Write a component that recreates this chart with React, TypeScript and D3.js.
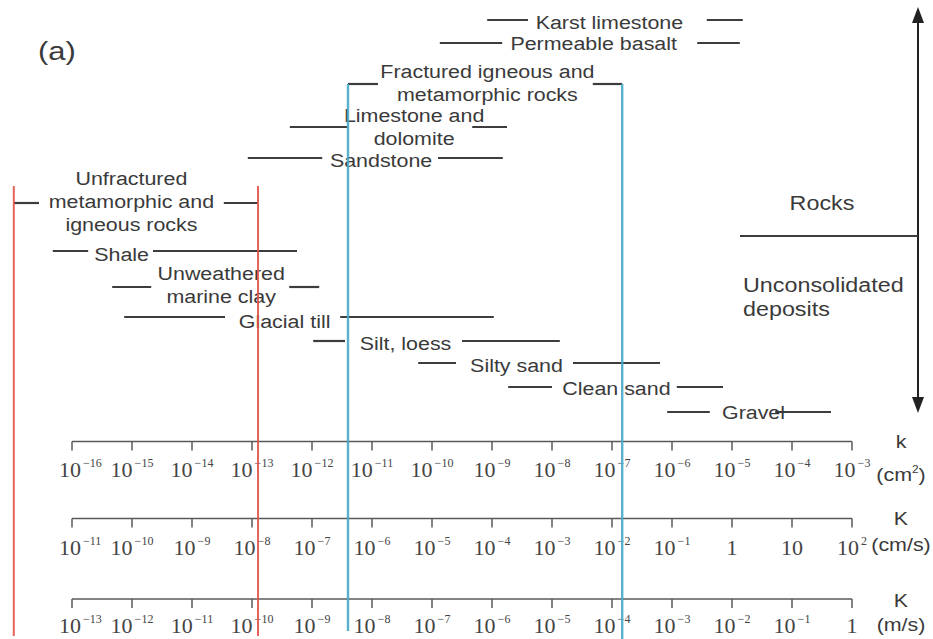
import React, { useEffect, useRef } from "react";
import * as d3 from "d3";

// Typical ranges of intrinsic permeability k (log10 cm²) for rocks and
// unconsolidated deposits. Each range is broken by a gap holding its name:
// [rangeLo, gapLo] and [gapHi, rangeHi] are the two drawn pieces.
const rockNames = [
  "Karst limestone",
  "Permeable basalt",
  "Fractured igneous and\nmetamorphic rocks",
  "Limestone and\ndolomite",
  "Sandstone",
  "Unfractured\nmetamorphic and\nigneous rocks",
  "Shale",
  "Unweathered\nmarine clay",
  "Glacial till",
  "Silt, loess",
  "Silty sand",
  "Clean sand",
  "Gravel",
];
const rangeLo = [-9.08, -9.87, -11.4, -12.37, -13.07, -16.97, -16.32, -15.33, -15.13, -11.98, -10.23, -8.73, -6.08];
const gapLo = [-8.4, -8.83, -10.9, -11.4, -11.83, -16.55, -15.73, -14.68, -13.45, -11.45, -9.6, -8.0, -5.37];
const gapHi = [-5.42, -5.58, -7.32, -9.33, -9.9, -13.47, -14.65, -12.38, -11.53, -9.5, -7.65, -5.92, -4.28];
const rangeHi = [-4.82, -4.87, -6.83, -8.75, -8.82, -12.9, -12.25, -11.88, -8.97, -7.87, -6.2, -5.15, -3.35];

// Tick exponents of the three scales (k in cm², K in cm/s, K in m/s)
const kExponents = [-16, -15, -14, -13, -12, -11, -10, -9, -8, -7, -6, -5, -4, -3];
const kCmsExponents = [-11, -10, -9, -8, -7, -6, -5, -4, -3, -2, -1, 0, 1, 2];
const kMsExponents = [-13, -12, -11, -10, -9, -8, -7, -6, -5, -4, -3, -2, -1, 0];

// Layout of the rows (pixels)
const rowY = [20, 43, 84, 127, 158, 203, 251, 287, 317, 341, 363, 387, 412];
const labelBaseline = [29, 50, 78, 122, 167, 185, 261, 280, 328, 350, 372, 395, 419];
const labelNudge = [-8, -6, 2, 4, 1, 0, 1, 1, 2, 2, 2, 2, 11];
const LINE_GAP = 23;

const SANS = "'Liberation Sans', Arial, Helvetica, sans-serif";
const SERIF = "'Liberation Serif', 'Times New Roman', Times, serif";
const SX = 1.19; // horizontal stretch of the sans lettering
const INK = "#3a3a3a";
const BAR = "#3d3d3d";
const AXIS = "#5a5a5a";
const RED = "#e5514a";
const BLUE = "#46a8c8";

export default function App() {
  const ref = useRef<SVGSVGElement>(null);

  useEffect(() => {
    const svg = d3.select(ref.current);
    svg.selectAll("*").remove();

    const x = d3.scaleLinear().domain([-16, -3]).range([72, 852]);
    const xCms = d3.scaleLinear().domain([-11, 2]).range([72, 852]);
    const xMs = d3.scaleLinear().domain([-13, 0]).range([72, 852]);

    const sansText = (
      g: d3.Selection<any, any, any, any>,
      str: string,
      cx: number,
      y: number,
      size: number,
      anchor = "middle"
    ) =>
      g
        .append("text")
        .attr("transform", `translate(${cx},${y}) scale(${SX},1)`)
        .attr("text-anchor", anchor)
        .attr("font-family", SANS)
        .attr("font-size", size)
        .attr("fill", INK)
        .text(str);

    // Panel tag
    sansText(svg, "(a)", 38, 60, 26, "start");

    // Range bars with their names
    const bars = svg.append("g");
    rockNames.forEach((name, i) => {
      const y = rowY[i];
      [
        [rangeLo[i], gapLo[i]],
        [gapHi[i], rangeHi[i]],
      ].forEach(([a, b]) => {
        bars
          .append("line")
          .attr("x1", x(a))
          .attr("x2", x(b))
          .attr("y1", y)
          .attr("y2", y)
          .attr("stroke", BAR)
          .attr("stroke-width", 2.2);
      });
      const cx = (x(gapLo[i]) + x(gapHi[i])) / 2 + labelNudge[i];
      name.split("\n").forEach((ln, j) => {
        sansText(bars, ln, cx, labelBaseline[i] + j * LINE_GAP, 18);
      });
    });

    // Rocks / unconsolidated deposits divider with double arrow
    const side = svg.append("g");
    const arrowX = 918;
    side
      .append("line")
      .attr("x1", arrowX)
      .attr("x2", arrowX)
      .attr("y1", 18)
      .attr("y2", 402)
      .attr("stroke", "#222")
      .attr("stroke-width", 2);
    side
      .append("path")
      .attr("d", `M${arrowX},7 L${arrowX - 6},23 L${arrowX + 6},23 Z`)
      .attr("fill", "#222");
    side
      .append("path")
      .attr("d", `M${arrowX},413 L${arrowX - 6},397 L${arrowX + 6},397 Z`)
      .attr("fill", "#222");
    side
      .append("line")
      .attr("x1", 740)
      .attr("x2", arrowX)
      .attr("y1", 236)
      .attr("y2", 236)
      .attr("stroke", BAR)
      .attr("stroke-width", 2.2);
    sansText(side, "Rocks", 822, 210, 19.6);
    sansText(side, "Unconsolidated", 743, 292, 19.6, "start");
    sansText(side, "deposits", 743, 316, 19.6, "start");

    // The three parallel scales
    const axes = [
      { scale: x, exps: kExponents, y: 441.5, labelY: 477, name: "k", nameY: 448, unit: ["(cm", "2", ")"], unitY: 481 },
      { scale: xCms, exps: kCmsExponents, y: 518.5, labelY: 555, name: "K", nameY: 525, unit: ["(cm/s)"], unitY: 551 },
      { scale: xMs, exps: kMsExponents, y: 599, labelY: 633, name: "K", nameY: 607, unit: ["(m/s)"], unitY: 631 },
    ];
    axes.forEach((ax) => {
      const g = svg.append("g");
      const [r0, r1] = ax.scale.range();
      g.append("line")
        .attr("x1", r0)
        .attr("x2", r1)
        .attr("y1", ax.y)
        .attr("y2", ax.y)
        .attr("stroke", AXIS)
        .attr("stroke-width", 1.6);
      ax.exps.forEach((e) => {
        const tx = ax.scale(e);
        g.append("line")
          .attr("x1", tx)
          .attr("x2", tx)
          .attr("y1", ax.y)
          .attr("y2", ax.y + 9)
          .attr("stroke", AXIS)
          .attr("stroke-width", 1.5);
        const t = g
          .append("text")
          .attr("x", tx)
          .attr("y", ax.labelY)
          .attr("text-anchor", "middle")
          .attr("font-family", SERIF)
          .attr("font-size", 22)
          .attr("fill", "#444");
        if (e === 0) {
          t.text("1");
        } else if (e === 1) {
          t.text("10");
        } else {
          t.append("tspan").text("10");
          t.append("tspan")
            .attr("font-size", 12)
            .attr("dy", -10)
            .attr("dx", 2)
            .text(e < 0 ? `\u2212${-e}` : `${e}`);
        }
        const node = t.node() as SVGTextElement;
        const bb = node.getBBox();
        if (bb.x < 59) t.attr("x", tx + (59 - bb.x));
      });
      sansText(g, ax.name, 901, ax.nameY, 18);
      const u = g
        .append("text")
        .attr("transform", `translate(901,${ax.unitY}) scale(${SX},1)`)
        .attr("text-anchor", "middle")
        .attr("font-family", SANS)
        .attr("font-size", 18)
        .attr("fill", INK);
      if (ax.unit.length === 3) {
        u.append("tspan").text(ax.unit[0]);
        u.append("tspan").attr("font-size", 10).attr("dy", -8).text(ax.unit[1]);
        u.append("tspan").attr("dy", 8).text(ax.unit[2]);
      } else {
        u.text(ax.unit[0]);
      }
    });

    // Reference lines marking the unfractured (red) and fractured (blue) crystalline-rock ranges
    const refs = svg.append("g");
    const refLines = [
      { v: rangeLo[5], y1: 186, y2: 636, c: RED, w: 2 },
      { v: rangeHi[5], y1: 186, y2: 636, c: RED, w: 2 },
      { v: rangeLo[2], y1: 84, y2: 631, c: BLUE, w: 2.4 },
      { v: rangeHi[2], y1: 84, y2: 639, c: BLUE, w: 2.4 },
    ];
    refLines.forEach((r) => {
      refs
        .append("line")
        .attr("x1", x(r.v))
        .attr("x2", x(r.v))
        .attr("y1", r.y1)
        .attr("y2", r.y2)
        .attr("stroke", r.c)
        .attr("stroke-width", r.w)
        .attr("stroke-opacity", 0.9);
    });
  }, []);

  return (
    <svg
      ref={ref}
      width={933}
      height={639}
      style={{ position: "absolute", left: 0, top: 0, background: "#fff" }}
    />
  );
}
